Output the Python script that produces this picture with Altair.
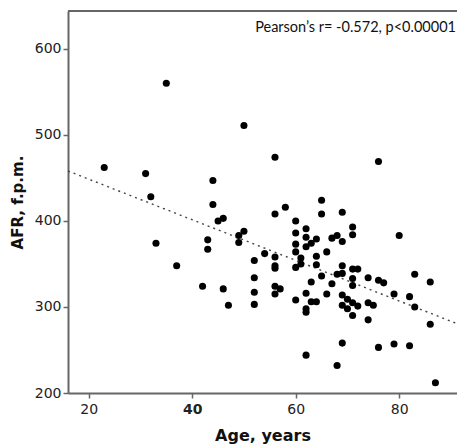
import altair as alt
import pandas as pd

age = [23, 31, 32, 33, 35, 37, 42, 43, 43, 44, 44, 45, 46, 46, 47, 49, 49, 50, 50,
       52, 52, 52, 52, 54, 56, 56, 56, 56, 56, 56, 56, 57, 58,
       60, 60, 60, 60, 60, 60, 61, 61, 62, 62, 62, 62, 62, 62, 62,
       63, 63, 63, 64, 64, 64, 64, 65, 65, 65, 66, 66, 67, 67, 68, 68, 68,
       69, 69, 69, 69, 69, 69, 69, 70, 70, 71, 71, 71, 71, 71, 71, 71, 72, 72,
       74, 74, 74, 75, 76, 76, 76, 77, 79, 79, 80, 82, 82, 83, 83, 86, 86, 87]
afr = [462, 455, 428, 374, 560, 348, 324, 378, 367, 447, 419, 400, 403, 321, 302, 383, 375, 388, 511,
       354, 334, 317, 303, 362, 474, 408, 358, 348, 345, 324, 315, 321, 416,
       400, 386, 373, 364, 346, 308, 357, 350, 391, 381, 370, 316, 298, 294, 244,
       374, 329, 306, 379, 359, 349, 306, 424, 408, 336, 364, 315, 380, 327, 383, 338, 232,
       410, 376, 348, 339, 314, 302, 258, 309, 298, 393, 384, 344, 333, 325, 305, 290, 344, 301,
       334, 305, 285, 302, 469, 331, 253, 328, 315, 257, 383, 312, 255, 338, 300, 329, 280, 212]

fit_age = [16, 92.7]
fit_afr = [458, 277]

annotation = ["Pearson\u2019s r= -0.572, p<0.00001"]

pts = pd.DataFrame({"age": age, "afr": afr})
fit = pd.DataFrame({"age": fit_age, "afr": fit_afr})
note = pd.DataFrame({"label": annotation})

W, H = 389, 382
xs = alt.Scale(domain=[16, 91.17], nice=False, zero=False)
ys = alt.Scale(domain=[200, 644], nice=False, zero=False)

axis_common = dict(
    domainColor="#666666", domainWidth=2, tickColor="#666666", tickWidth=1.5, tickSize=5,
    labelFont="DejaVu Sans", labelFontSize=14, labelColor="#222222",
    titleFont="DejaVu Sans", titleFontWeight="bold", titleColor="#111111",
    grid=False,
)

x_axis = alt.Axis(title="Age, years", values=[20, 40, 60, 80], labelPadding=4, titlePadding=11,
                  titleFontSize=16,
                  labelFontWeight=alt.ExprRef("datum.value == 40 ? 'bold' : 'normal'"), **axis_common)
y_axis = alt.Axis(title="AFR, f.p.m.", values=[200, 300, 400, 500, 600], labelPadding=2,
                  titleFontSize=15, titleX=-43, titleBaseline="bottom",
                  **axis_common)

points = alt.Chart(pts).mark_circle(size=50, color="black", opacity=1).encode(
    x=alt.X("age:Q", scale=xs, axis=x_axis),
    y=alt.Y("afr:Q", scale=ys, axis=y_axis),
)

line = alt.Chart(fit).mark_line(color="#444444", strokeWidth=1.4, strokeDash=[2, 4], clip=True).encode(
    x=alt.X("age:Q", scale=xs),
    y=alt.Y("afr:Q", scale=ys),
)

top = alt.Chart(note).mark_rule(color="#666666", strokeWidth=2).encode(
    x=alt.value(0), x2=alt.value(W), y=alt.value(0)
)

txt = alt.Chart(note).mark_text(font="Lato", fontSize=14.5, color="#111111", align="right", baseline="middle").encode(
    x=alt.value(W - 1), y=alt.value(17), text="label:N"
)

chart = alt.layer(line, points, top, txt).properties(
    width=W, height=H,
    autosize=alt.AutoSizeParams(type="none"),
    padding={"left": 60, "top": 3, "right": 0, "bottom": 51},
).configure_view(stroke=None)

chart.save("out.html", embed_options={"renderer": "svg", "actions": False})
